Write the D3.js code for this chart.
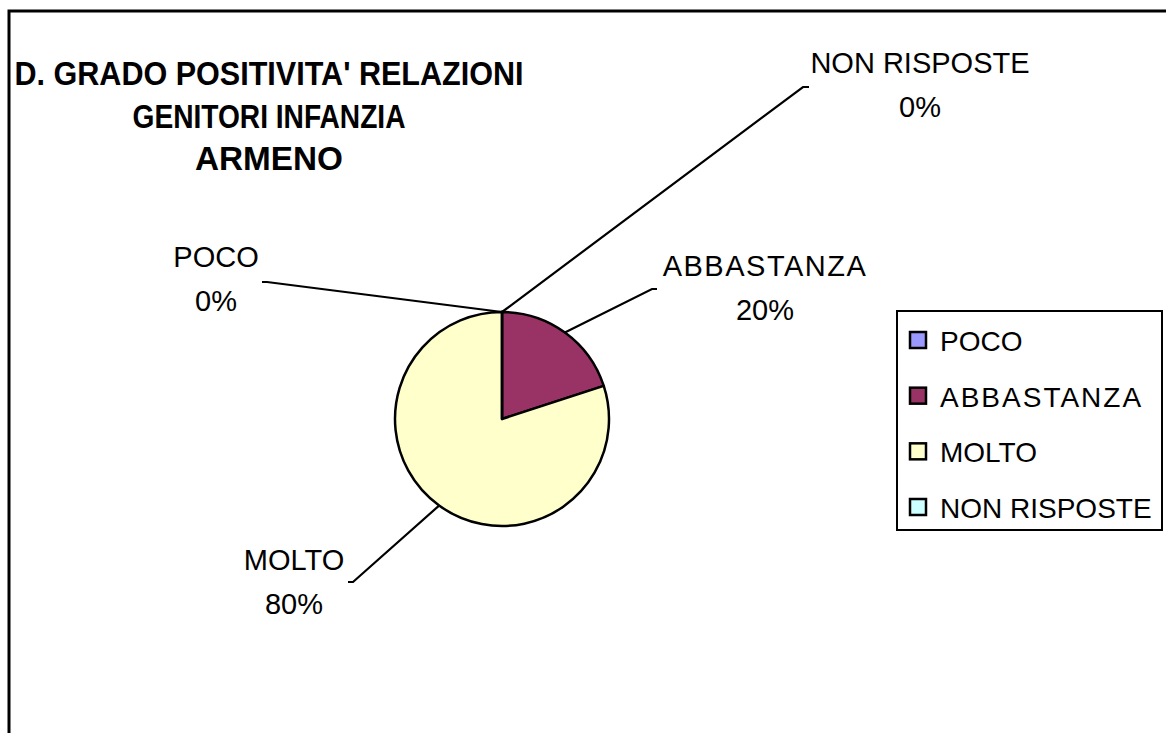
<!DOCTYPE html>
<html>
<meta charset="utf-8"/>
<head>
  <title>Grado positivita relazioni</title>
  <script src="https://d3js.org/d3.v7.min.js" charset="utf-8"></script>
  <style>
    body { margin: 0; background: #fff; }
    text { font-family: "Liberation Sans", Arial, sans-serif; fill: #000; }
  </style>
</head>
<body>
<script>
  // DATA
  var categories = ['POCO', 'ABBASTANZA', 'MOLTO', 'NON RISPOSTE'];
  var values = [0, 20, 80, 0];
  var colors = ['#9999FF', '#993366', '#FFFFCC', '#CCFFFF'];
  var titleLines = ["D. GRADO POSITIVITA' RELAZIONI", 'GENITORI INFANZIA', 'ARMENO'];

  // layout
  var width = 1166, height = 733;
  var cx = 502, cy = 419, radius = 107;
  // where each data label sits (text centre x, first baseline y) and where its leader ends
  var labelLayout = [
    {x: 216, y: 267, lx: 267, ly: 282, tick: -5, ls: 0},
    {x: 765, y: 276, lx: 652, ly: 289, tick: 5, ls: 1.5},
    {x: 294, y: 570, lx: 353, ly: 582, tick: -5, ls: 0},
    {x: 920, y: 73,  lx: 803, ly: 87,  tick: 6, ls: 0}
  ];

  var svg = d3.select('body').append('svg')
      .attr('width', width)
      .attr('height', height);

  // outer frame (runs off the right and bottom)
  svg.append('rect')
      .attr('x', 9).attr('y', 11)
      .attr('width', width + 20).attr('height', height + 20)
      .attr('fill', 'none')
      .attr('stroke', '#000')
      .attr('stroke-width', 3);

  // title
  var titleWidths = [509, 273, 148];
  var titleBase = [85, 128, 170];
  titleLines.forEach(function(t, i) {
    svg.append('text')
      .attr('x', 269)
      .attr('y', titleBase[i])
      .attr('text-anchor', 'middle')
      .attr('font-size', 33)
      .attr('font-weight', 'bold')
      .attr('textLength', titleWidths[i])
      .attr('lengthAdjust', 'spacingAndGlyphs')
      .text(t);
  });

  var pie = d3.pie().sort(null).value(function(d) { return d; });
  var arcs = pie(values);
  var arc = d3.arc().innerRadius(0).outerRadius(radius);

  var g = svg.append('g').attr('transform', 'translate(' + cx + ',' + cy + ')');

  g.selectAll('path.slice')
    .data(arcs)
    .enter().append('path')
      .attr('class', 'slice')
      .attr('d', arc)
      .attr('fill', function(d, i) { return colors[i]; })
      .attr('stroke', '#000')
      .attr('stroke-width', 2.5)
      .attr('stroke-linejoin', 'round');

  // leader lines + labels
  var total = d3.sum(values);
  arcs.forEach(function(d, i) {
    var mid = (d.startAngle + d.endAngle) / 2;
    var sx = cx + radius * Math.sin(mid);
    var sy = cy - radius * Math.cos(mid);
    var L = labelLayout[i];
    svg.append('polyline')
      .attr('points', sx + ',' + sy + ' ' + L.lx + ',' + L.ly + ' ' + (L.lx + L.tick) + ',' + L.ly)
      .attr('fill', 'none')
      .attr('stroke', '#000')
      .attr('stroke-width', 2.2);

    svg.append('text')
      .attr('x', L.x).attr('y', L.y)
      .attr('text-anchor', 'middle')
      .attr('font-size', 29)
      .attr('letter-spacing', L.ls)
      .text(categories[i]);
    svg.append('text')
      .attr('x', L.x).attr('y', L.y + 44)
      .attr('text-anchor', 'middle')
      .attr('font-size', 29)
      .text(Math.round(values[i] / total * 100) + '%');
  });

  // legend
  var legend = svg.append('g');
  legend.append('rect')
    .attr('x', 897).attr('y', 311)
    .attr('width', 265).attr('height', 219)
    .attr('fill', '#fff')
    .attr('stroke', '#000')
    .attr('stroke-width', 2);

  var legY = d3.scalePoint().domain(categories).range([340, 507]);
  categories.forEach(function(c, i) {
    legend.append('rect')
      .attr('x', 910).attr('y', legY(c) - 8)
      .attr('width', 16).attr('height', 16)
      .attr('fill', colors[i])
      .attr('stroke', '#000')
      .attr('stroke-width', 2.5);
    legend.append('text')
      .attr('x', 940).attr('y', legY(c) + 11)
      .attr('font-size', 28)
      .attr('letter-spacing', c === 'ABBASTANZA' ? 2 : 0)
      .text(c);
  });
</script>
</body>
</html>
